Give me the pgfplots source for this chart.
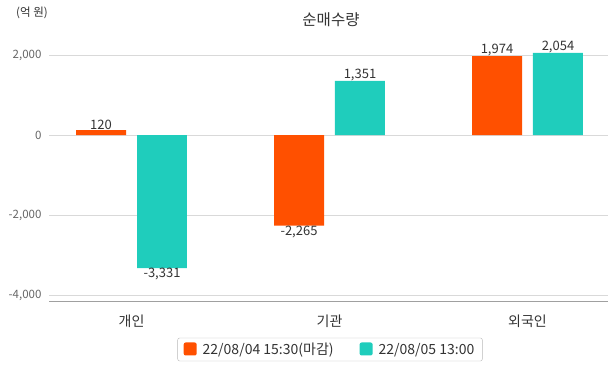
\documentclass[border=0pt]{standalone}
\usepackage{pgfplots}
\pgfplotsset{compat=1.18}
\usepackage{fontspec}
\setmainfont{Noto Sans CJK KR}
\definecolor{cOrange}{HTML}{FF5000}
\definecolor{cTeal}{HTML}{1FCDBC}
\definecolor{cGrid}{HTML}{D9D9D9}
\definecolor{cAxis}{HTML}{A0A0A0}
\definecolor{cTick}{HTML}{666666}
\definecolor{cText}{HTML}{333333}
\begin{document}
\begin{tikzpicture}[x=1pt,y=1pt]
\path[use as bounding box] (0,0) rectangle (615,368);
\node[font=\fontsize{11.5}{12}\selectfont, text=cText] at (32,355) {(억 원)};
\node[font=\fontsize{15.5}{17}\selectfont, text=cText] at (331,348) {순매수량};
\begin{axis}[
  at={(49pt,67pt)}, anchor=south west,
  scale only axis, width=559pt, height=266pt,
  xmin=-0.4167, xmax=2.4066,
  ymin=-4150, ymax=2500,
  ybar, bar width=0.2525,
  xtick={0,1,2}, xticklabels={개인,기관,외국인},
  ytick={-4000,-2000,0,2000},
  major tick length=0,
  ymajorgrids, grid style={cGrid, line width=0.8pt},
  axis x line*=bottom, axis y line*=left,
  x axis line style={cAxis, line width=0.8pt, -},
  y axis line style={draw=none},
  /pgf/number format/assume math mode=true,
  /pgf/number format/1000 sep={,},
  yticklabel style={font=\fontsize{11.5}{12}\selectfont, text=cTick, xshift=-4pt},
  xticklabel style={font=\fontsize{14}{15}\selectfont, text=cText, yshift=-10pt},
  nodes near coords, point meta=y,
  nodes near coords align={vertical},
  every node near coord/.append style={font=\fontsize{13}{14}\selectfont, text=cText, inner sep=0pt,
    /pgf/number format/assume math mode=true, /pgf/number format/1000 sep={,}},
  legend columns=2,
  legend style={at={(0.5027,-0.1823)}, anchor=center, draw=gray!55, rounded corners=2pt,
    font=\fontsize{14}{15}\selectfont, text=cText, inner xsep=6pt, inner ysep=3pt,
    /tikz/every even column/.append style={column sep=24pt}},
  legend cell align=left,
  legend image code/.code={\fill[#1,draw=none] (0pt,-6pt) rectangle (13pt,7pt);},
  clip=false,
]
\addplot[fill=cOrange, draw=none, bar shift=-0.154] coordinates {(0,120) (1,-2265) (2,1974)};
\addlegendentry{\hspace{4pt}22/08/04 15:30(마감)}
\addplot[fill=cTeal, draw=none, bar shift=0.154] coordinates {(0,-3331) (1,1351) (2,2054)};
\addlegendentry{\hspace{4pt}22/08/05 13:00}
\end{axis}
\end{tikzpicture}
\end{document}
